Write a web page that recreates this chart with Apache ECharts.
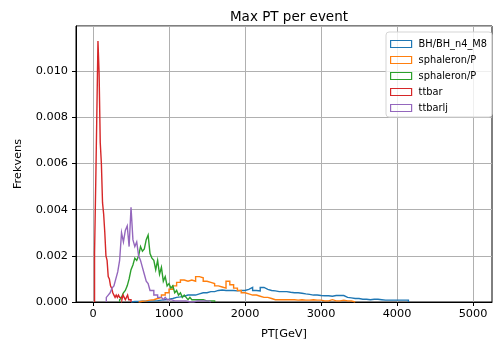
<!DOCTYPE html>
<html><head><meta charset="utf-8">
<script src="https://cdn.jsdelivr.net/npm/echarts@6/dist/echarts.min.js"></script>
<style>html,body{margin:0;padding:0;background:#fff}#c{width:493px;height:349px}</style>
</head><body><div id="c"></div>
<script>
// Legend names (second sphaleron gets a hidden suffix stripped by the legend formatter)
const seriesNames = ['BH/BH_n4_M8', 'sphaleron/P', 'sphaleron/P (2)', 'ttbar', 'ttbarlj'];
const seriesColors = ['#1f77b4', '#ff7f0e', '#2ca02c', '#d62728', '#9467bd'];
const xTickValues = [0, 1000, 2000, 3000, 4000, 5000];

// BH/BH_n4_M8 : bins start 500 GeV, width 50 GeV
const bhStart = 500, bhWidth = 50;
const bhValues = [0.00002,0.00002,0.00003,0.00003,0.00004,0.00005,0.00006,0.00008,0.0001,0.00012,
  0.00015,0.0002,0.00022,0.00025,0.0003,0.0003,0.0003,0.00035,0.0004,0.0004,
  0.00045,0.00045,0.0005,0.00052,0.0005,0.0005,0.0005,0.00048,0.0005,0.0005,
  0.00055,0.00063,0.0005,0.00048,0.00063,0.00055,0.0005,0.00048,0.00045,0.00045,
  0.00045,0.00042,0.0004,0.0004,0.00038,0.00035,0.00033,0.0003,0.0003,0.00028,
  0.00027,0.00027,0.00025,0.00028,0.00028,0.00028,0.0002,0.00018,0.00015,0.00015,
  0.00012,0.00012,0.0001,0.00012,0.00012,0.0001,0.00008,0.00008,0.00008,0.00008,
  0.00008,0.00008,0.00008];

// sphaleron/P (orange) : start 600, width 50
const sphAStart = 600, sphAWidth = 50;
const sphAValues = [0.00003,0.00005,0.00008,0.0001,0.00015,0.0002,0.0003,0.0004,0.00055,0.0007,
  0.00085,0.00095,0.0009,0.00095,0.0009,0.0011,0.00105,0.0009,0.00085,0.0008,
  0.0007,0.00065,0.0006,0.0009,0.00075,0.0006,0.0005,0.0004,0.00035,0.0003,
  0.0003,0.00025,0.0002,0.0002,0.00015,0.0001,0.0001,0.0001,0.0001,0.0001,
  0.0001,0.00008,0.0001,0.00008,0.00008,0.0001,0.00008,0.00008,0.00005,0.00005,
  0.0001,0.00005,0.00005,0.00008,0.00005,0.00005,0];

// sphaleron/P (green) : start 350, width 25
const sphBStart = 350, sphBWidth = 25;
const sphBValues = [0.0001,0.0002,0.0004,0.0005,0.0007,0.0010,0.0014,0.0016,0.0019,0.0018,
  0.0020,0.0024,0.0022,0.0023,0.0027,0.0029,0.0021,0.0019,0.0018,0.0014,
  0.0018,0.0012,0.0015,0.0009,0.0011,0.0007,0.0008,0.0006,0.0007,0.0004,
  0.0005,0.0003,0.0004,0.0002,0.0003,0.0002,0.0001,0.0002,0.0001,0.0001,
  0.00005,0.0001,0.00005,0.0001,0.00005,0.00005,0.00005,0.00005,0.00005,0.00005];

// ttbar : start 20, width 15
const ttStart = 20, ttWidth = 15;
const ttValues = [0.0021,0.0050,0.0081,0.0113,0.0099,0.0069,0.0060,0.0043,0.0038,0.0030,
  0.0020,0.0018,0.0011,0.0010,0.0007,0.0006,0.0004,0.0003,0.0002,0.0003,
  0.0002,0.0003,0.0002,0.0002,0.0001,0.0003,0.0002,0.0001,0.0002,0.0003,
  0.0001,0.0001];

// ttbarlj : start 175, width 25
const tljStart = 175, tljWidth = 25;
const tljValues = [0.0002,0.0003,0.0004,0.0006,0.0007,0.0010,0.0013,0.0018,0.0030,0.0026,
  0.0031,0.0033,0.0024,0.0041,0.0027,0.0024,0.0026,0.0020,0.0018,0.0015,
  0.0012,0.0009,0.0008,0.0005,0.0005,0.0003,0.0003,0.0002,0.0002,0.0002,
  0.0001,0.0002,0.0001,0.0001,0.0001,0.00005,0.0001,0.00005,0.0001,0.00005,
  0.0001,0.00005,0.00005,0,0.00005,0,0.00005,0.00005,0,0.00005,0,0.00005,0.00005,0.00005,0];

function outline(start, width, vals) {
  const pts = [[start, 0]];
  vals.forEach((v, i) => { pts.push([start + i * width, v]); pts.push([start + (i + 1) * width, v]); });
  pts.push([start + vals.length * width, 0]);
  return pts;
}
const hists = [
  outline(bhStart, bhWidth, bhValues),
  outline(sphAStart, sphAWidth, sphAValues),
  outline(sphBStart, sphBWidth, sphBValues),
  outline(ttStart, ttWidth, ttValues),
  outline(tljStart, tljWidth, tljValues)
];

const font = 'DejaVu Sans';
const chart = echarts.init(document.getElementById('c'), null, {renderer: 'canvas'});
chart.setOption({
  animation: false,
  backgroundColor: '#fff',
  title: {
    text: 'Max PT per event', left: 284, top: 5, textAlign: 'center',
    textStyle: {fontFamily: font, fontSize: 13.5, fontWeight: 'normal', color: '#000'}
  },
  grid: {left: 76, right: 1, top: 26, bottom: 47, show: true, borderColor: '#000', borderWidth: 1, backgroundColor: 'transparent'},
  legend: {
    orient: 'vertical', left: 386, top: 32,
    padding: [6, 5, 3, 4], itemGap: 4, itemWidth: 21, itemHeight: 7,
    backgroundColor: 'rgba(255,255,255,0.8)', borderColor: '#d5d5d5', borderWidth: 1, borderRadius: 3,
    icon: 'rect',
    formatter: n => n.replace(' (2)', ''),
    textStyle: {fontFamily: font, fontSize: 9.8, color: '#000', lineHeight: 12, padding: [0, 0, 0, 2]},
    data: seriesNames.map((n, i) => ({name: n, icon: 'rect', itemStyle: {color: 'rgba(0,0,0,0)', borderColor: seriesColors[i], borderWidth: 1.2}}))
  },
  xAxis: {
    type: 'value', min: -224, max: 5250,
    name: 'PT[GeV]', nameLocation: 'middle', nameGap: 27,
    nameTextStyle: {fontFamily: font, fontSize: 11.3, color: '#000'},
    axisLine: {show: true, onZero: false, lineStyle: {color: '#000', width: 1}},
    axisTick: {show: true, customValues: xTickValues, length: 4, lineStyle: {color: '#000'}},
    axisLabel: {customValues: xTickValues, fontFamily: font, fontSize: 11.3, color: '#000', margin: 7,
      formatter: v => String(Math.round(v))},
    splitLine: {show: true, lineStyle: {color: '#b0b0b0', width: 1}}
  },
  yAxis: {
    type: 'value', min: 0, max: 0.01195, interval: 0.002,
    name: 'Frekvens', nameLocation: 'middle', nameGap: 52,
    nameTextStyle: {fontFamily: font, fontSize: 11.3, color: '#000'},
    axisLine: {show: true, onZero: false, lineStyle: {color: '#000', width: 1}},
    axisTick: {show: true, length: 4, lineStyle: {color: '#000'}},
    axisLabel: {fontFamily: font, fontSize: 11.3, color: '#000', margin: 8, showMaxLabel: false,
      formatter: v => v.toFixed(3)},
    splitLine: {show: true, lineStyle: {color: '#b0b0b0', width: 1}}
  },
  series: hists.map((d, i) => ({
    name: seriesNames[i], type: 'line', data: d, symbol: 'none', showSymbol: false,
    lineStyle: {color: seriesColors[i], width: 1.4, join: 'miter'}, itemStyle: {color: seriesColors[i]},
    emphasis: {disabled: true}, z: 2 + i
  }))
});
</script></body></html>
